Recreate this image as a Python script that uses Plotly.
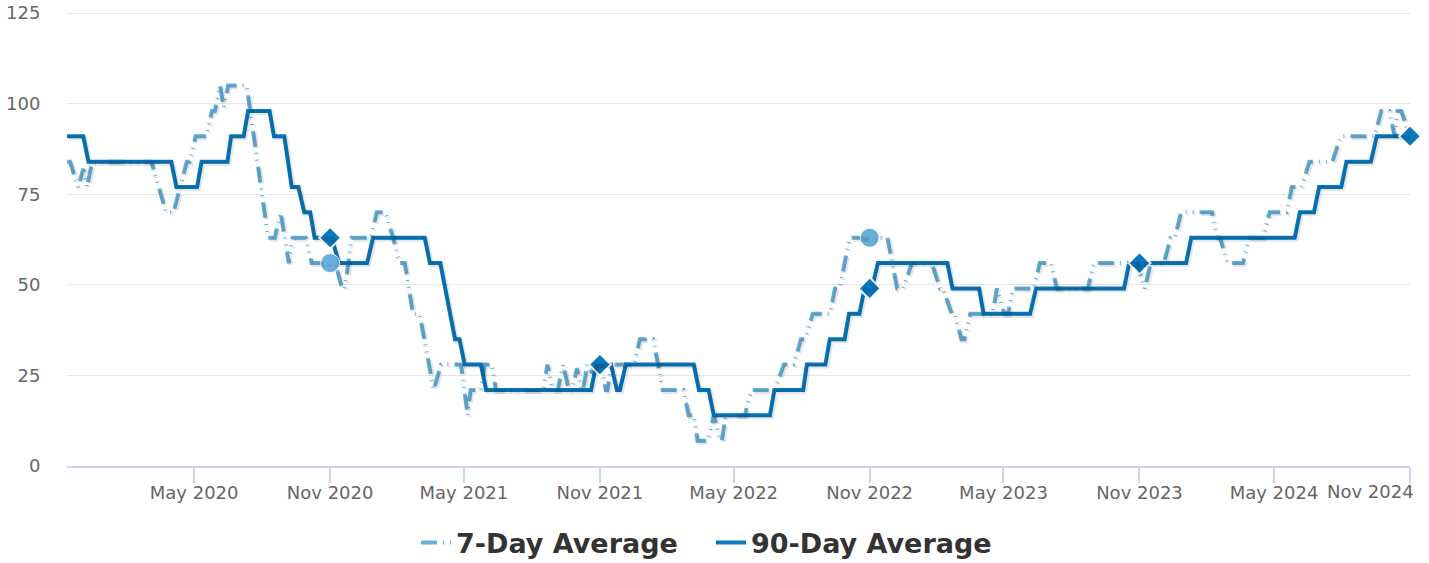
import plotly.graph_objects as go
import pandas as pd

# ---------------- data ----------------
avg7_dates = [
    "2019-11-11", "2019-11-15", "2019-11-26", "2019-12-03", "2019-12-08", "2019-12-15",
    "2020-03-04", "2020-03-24", "2020-04-01", "2020-04-03", "2020-04-21", "2020-04-25",
    "2020-05-03", "2020-05-18", "2020-05-25", "2020-05-29", "2020-06-05", "2020-06-10",
    "2020-06-16", "2020-07-11", "2020-08-09", "2020-08-18", "2020-08-26", "2020-09-06",
    "2020-09-11", "2020-09-29", "2020-10-07", "2020-11-08", "2020-11-17", "2020-11-21",
    "2020-11-30", "2020-12-26", "2021-01-03", "2021-01-15", "2021-01-25", "2021-02-03",
    "2021-02-10", "2021-02-21", "2021-03-02", "2021-03-21", "2021-03-31", "2021-04-27",
    "2021-05-06", "2021-05-10", "2021-05-24", "2021-05-29", "2021-06-08", "2021-06-13",
    "2021-08-16", "2021-08-22", "2021-08-29", "2021-09-05", "2021-09-12", "2021-09-20",
    "2021-09-24", "2021-10-01", "2021-10-07", "2021-10-09", "2021-10-15", "2021-10-19",
    "2021-10-25", "2021-11-02", "2021-11-09", "2021-11-11", "2021-11-17", "2021-12-17",
    "2021-12-25", "2022-01-12", "2022-01-25", "2022-02-22", "2022-03-01", "2022-03-08",
    "2022-03-13", "2022-03-27", "2022-04-04", "2022-04-13", "2022-04-15", "2022-04-20",
    "2022-05-16", "2022-05-25", "2022-06-25", "2022-07-08", "2022-07-21", "2022-07-31",
    "2022-08-05", "2022-08-16", "2022-09-08", "2022-09-15", "2022-09-21", "2022-10-05",
    "2022-11-25", "2022-12-08", "2022-12-16", "2022-12-28", "2023-01-24", "2023-02-04",
    "2023-02-08", "2023-02-20", "2023-02-24", "2023-03-05", "2023-03-09", "2023-03-17",
    "2023-04-16", "2023-04-22", "2023-05-02", "2023-05-07", "2023-05-14", "2023-06-11",
    "2023-06-19", "2023-07-04", "2023-07-12", "2023-08-23", "2023-08-31", "2023-10-28",
    "2023-11-08", "2023-11-16", "2023-12-04", "2023-12-13", "2023-12-19", "2023-12-27",
    "2024-02-07", "2024-02-14", "2024-02-18", "2024-02-28", "2024-03-20", "2024-03-28",
    "2024-04-16", "2024-04-25", "2024-05-18", "2024-05-25", "2024-06-07", "2024-06-18",
    "2024-07-19", "2024-07-30", "2024-09-14", "2024-09-23", "2024-10-04", "2024-10-11",
    "2024-10-15", "2024-10-20", "2024-11-01",
]
avg7_values = [
    84, 84, 77, 82, 77, 84,
    84, 70, 70, 70, 84, 84,
    91, 91, 98, 98, 105, 99,
    105, 105, 63, 63, 70, 56,
    63, 63, 56, 56, 49, 49,
    63, 63, 70, 70, 63, 56,
    56, 42, 42, 21, 28, 28,
    14, 21, 21, 28, 28, 21,
    21, 28, 21, 21, 28, 21,
    21, 27, 21, 21, 28, 25,
    28, 28, 21, 21, 28, 28,
    35, 35, 21, 21, 14, 14,
    7, 7, 14, 7, 7, 14,
    14, 21, 21, 28, 28, 35,
    35, 42, 42, 49, 49, 63,
    63, 49, 49, 56, 56, 49,
    49, 42, 42, 35, 35, 42,
    42, 49, 42, 42, 49, 49,
    56, 56, 49, 49, 56, 56,
    49, 56, 56, 63, 63, 70,
    70, 63, 63, 56, 56, 63,
    63, 70, 70, 77, 77, 84,
    84, 91, 91, 98, 98, 91,
    98, 98, 91,
]

avg90_dates = [
    "2019-11-11", "2019-12-03", "2019-12-10", "2020-03-31", "2020-04-07", "2020-05-05",
    "2020-05-11", "2020-06-15", "2020-06-20", "2020-07-07", "2020-07-13", "2020-08-11",
    "2020-08-17", "2020-08-31", "2020-09-10", "2020-09-19", "2020-09-27", "2020-10-05",
    "2020-10-11", "2020-11-03", "2020-11-13", "2020-12-21", "2020-12-29", "2021-03-09",
    "2021-03-16", "2021-03-30", "2021-04-19", "2021-04-25", "2021-05-02", "2021-05-24",
    "2021-05-31", "2021-10-20", "2021-10-27", "2021-11-16", "2021-11-24", "2021-11-28",
    "2021-12-06", "2022-03-08", "2022-03-15", "2022-03-28", "2022-04-04", "2022-06-19",
    "2022-06-25", "2022-08-03", "2022-08-08", "2022-09-02", "2022-09-08", "2022-09-28",
    "2022-10-04", "2022-10-18", "2022-10-25", "2022-11-04", "2022-11-12", "2023-02-14",
    "2023-02-21", "2023-03-29", "2023-04-04", "2023-06-06", "2023-06-14", "2023-10-11",
    "2023-10-18", "2024-01-03", "2024-01-10", "2024-05-29", "2024-06-05", "2024-06-24",
    "2024-07-01", "2024-07-31", "2024-08-07", "2024-09-09", "2024-09-17", "2024-11-01",
]
avg90_values = [
    91, 91, 84, 84, 77, 77,
    84, 84, 91, 91, 98, 98,
    91, 91, 77, 77, 70, 70,
    63, 63, 56, 56, 63, 63,
    56, 56, 35, 35, 28, 28,
    21, 21, 28, 28, 21, 21,
    28, 28, 21, 21, 14, 14,
    21, 21, 28, 28, 35, 35,
    42, 42, 49, 49, 56, 56,
    49, 49, 42, 42, 49, 49,
    56, 56, 63, 63, 70, 70,
    77, 77, 84, 84, 91, 91,
]

marker7_dates = ["2020-11-01", "2022-11-01"]
marker7_values = [56, 63]
marker90_dates = ["2020-11-01", "2021-11-01", "2022-11-01", "2023-11-01", "2024-11-01"]
marker90_values = [63, 28, 49, 56, 91]

tick_dates = ["2020-05-01", "2020-11-01", "2021-05-01", "2021-11-01", "2022-05-01",
              "2022-11-01", "2023-05-01", "2023-11-01", "2024-05-01", "2024-11-01"]
tick_labels = ["May 2020", "Nov 2020", "May 2021", "Nov 2021", "May 2022",
               "Nov 2022", "May 2023", "Nov 2023", "May 2024", "Nov 2024"]
y_ticks = [0, 25, 50, 75, 100, 125]

series_names = ["7-Day Average", "90-Day Average"]

# ---------------- style ----------------
C7 = "#66afda"
C90 = "#0a78be"
FONT = "DejaVu Sans"
DASH7 = "16px,6px,1px,6px,1px,6px"
x_start, x_end = "2019-11-11", "2024-11-01"
Y_TOP = 125.3                 # a hair above 125 so the top grid line shows
W, H = 1429, 563
M = dict(l=67, r=1429 - 1410, t=12, b=563 - 466)
plot_w = W - M["l"] - M["r"]
plot_h = H - M["t"] - M["b"]

fig = go.Figure()

# soft drop shadow: same data on an overlay axis offset by ~1.5px
span_days = (pd.Timestamp(x_end) - pd.Timestamp(x_start)).days
px_day = span_days / plot_w
px_val = Y_TOP / plot_h
off = 1.5
fig.add_trace(go.Scatter(x=avg7_dates, y=avg7_values, mode="lines", xaxis="x2", yaxis="y2",
                         line=dict(color="rgba(0,0,0,0.10)", width=5, dash=DASH7),
                         showlegend=False, hoverinfo="skip"))
fig.add_trace(go.Scatter(x=avg90_dates, y=avg90_values, mode="lines", xaxis="x2", yaxis="y2",
                         line=dict(color="rgba(0,0,0,0.10)", width=5),
                         showlegend=False, hoverinfo="skip"))

fig.add_trace(go.Scatter(x=avg7_dates, y=avg7_values, mode="lines", name=series_names[0],
                         legend="legend",
                         line=dict(color=C7, width=4, dash=DASH7)))
fig.add_trace(go.Scatter(x=avg90_dates, y=avg90_values, mode="lines", name=series_names[1],
                         legend="legend2",
                         line=dict(color=C90, width=4)))

fig.add_trace(go.Scatter(x=marker7_dates, y=marker7_values, mode="markers", showlegend=False,
                         cliponaxis=False,
                         marker=dict(symbol="circle", size=19, color=C7,
                                     line=dict(color="white", width=1))))
fig.add_trace(go.Scatter(x=marker90_dates, y=marker90_values, mode="markers", showlegend=False,
                         cliponaxis=False,
                         marker=dict(symbol="diamond", size=17, color=C90,
                                     line=dict(color="white", width=2))))

legend_font = dict(family=FONT, size=27, color="#333333", weight="bold")
leg_y = 1 - 543 / H


def leg(page_x):
    return dict(orientation="h", xref="container", yref="container",
                x=page_x / W, xanchor="left", y=leg_y, yanchor="middle",
                font=legend_font, itemwidth=30, bgcolor="rgba(0,0,0,0)")


fig.update_layout(
    width=W, height=H, margin=M,
    paper_bgcolor="white", plot_bgcolor="white",
    font=dict(family=FONT, color="#666666", size=18),
    hovermode=False,
    xaxis=dict(type="date", range=[x_start, x_end], automargin=False,
               tickvals=tick_dates, ticktext=tick_labels[:-1] + [""],
               showgrid=False, zeroline=False,
               showline=True, linecolor="#ccd6eb", linewidth=1.5,
               ticks="outside", ticklen=15, tickwidth=1.5, tickcolor="#ccd6eb",
               ticklabelstandoff=-5, ticklabeloverflow="allow",
               tickfont=dict(family=FONT, size=18, color="#666666")),
    yaxis=dict(range=[0, Y_TOP], tickvals=y_ticks, showgrid=True, gridcolor="#e6e6e6",
               gridwidth=1, zeroline=False, showline=False, automargin=False,
               ticks="outside", ticklen=22, tickcolor="rgba(0,0,0,0)",
               ticklabeloverflow="allow",
               tickfont=dict(family=FONT, size=18, color="#666666")),
    xaxis2=dict(type="date", overlaying="x", visible=False, automargin=False,
                range=[pd.Timestamp(x_start) - pd.Timedelta(days=off * px_day),
                       pd.Timestamp(x_end) - pd.Timedelta(days=off * px_day)]),
    yaxis2=dict(overlaying="y", visible=False, automargin=False,
                range=[off * px_val, Y_TOP + off * px_val]),
    legend=leg(416),
    legend2=leg(711),
    showlegend=True,
)

fig.add_annotation(x=tick_dates[-1], y=0, xref="x", yref="paper", text=tick_labels[-1],
                   showarrow=False, xanchor="right", yanchor="top", xshift=6, yshift=-13,
                   font=dict(family=FONT, size=18, color="#666666"))

# the page's default 8px body margin would push the figure off its frame
fig.write_html("out.html", config={"displayModeBar": False},
               post_script="document.body.style.margin='0px';")
